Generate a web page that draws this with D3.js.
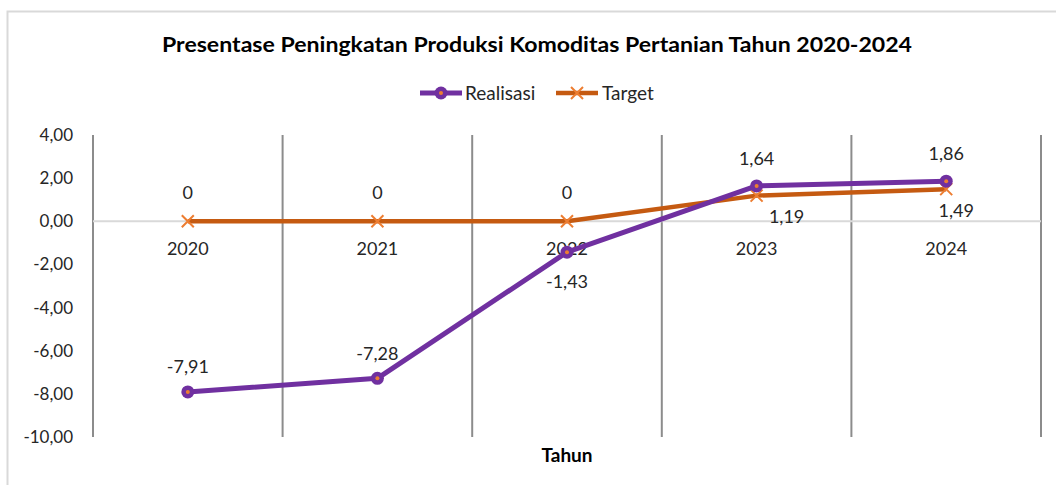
<!DOCTYPE html>
<html>
<head>
<meta charset="utf-8">
<script src="https://cdn.jsdelivr.net/npm/d3@7"></script>
<style>
  body { margin: 0; background: #fff; }
  svg { display: block; font-family: Lato, "Open Sans", sans-serif; }
</style>
</head>
<body>
<div id="chart"></div>
<script>
const years = ['2020', '2021', '2022', '2023', '2024'];
const realisasi = [-7.91, -7.28, -1.43, 1.64, 1.86];
const target = [0, 0, 0, 1.19, 1.49];
const yTicks = [4, 2, 0, -2, -4, -6, -8, -10];

const width = 1056, height = 485;
const margin = {top: 135, right: 15, bottom: 48, left: 93};

const locale = d3.formatLocale({decimal: ',', thousands: '.', grouping: [3], currency: ['Rp', ''], minus: '-'});
const fmtTick = locale.format('.2f');
const fmtLabel = v => v === 0 ? '0' : locale.format('.2f')(v);

const svg = d3.select('#chart').append('svg')
    .attr('width', width)
    .attr('height', height);

// chart border (only top and left are visible in the frame)
svg.append('path')
    .attr('d', 'M7.5,' + height + ' V11.5 H' + width)
    .attr('fill', 'none')
    .attr('stroke', '#d9d9d9')
    .attr('stroke-width', 2);

const x = d3.scaleBand()
    .domain(years)
    .range([margin.left, 1041]);

const y = d3.scaleLinear()
    .domain([-10, 4])
    .range([437, margin.top]);

// title
svg.append('text')
    .attr('x', 537)
    .attr('y', 52)
    .attr('text-anchor', 'middle')
    .attr('font-weight', 'bold')
    .attr('font-size', 21)
    .attr('textLength', 750)
    .attr('lengthAdjust', 'spacingAndGlyphs')
    .attr('fill', '#000')
    .text('Presentase Peningkatan Produksi Komoditas Pertanian Tahun 2020-2024');

// vertical gridlines (category boundaries)
const bounds = years.map(d => x(d)).concat([x.range()[1]]);
svg.append('g')
    .selectAll('line')
    .data(bounds)
    .join('line')
    .attr('x1', d => d)
    .attr('x2', d => d)
    .attr('y1', y(4))
    .attr('y2', y(-10))
    .attr('stroke', '#8c8c8c')
    .attr('stroke-width', 2);

// horizontal category axis at zero
svg.append('line')
    .attr('x1', margin.left)
    .attr('x2', x.range()[1])
    .attr('y1', y(0))
    .attr('y2', y(0))
    .attr('stroke', '#d9d9d9')
    .attr('stroke-width', 2);

// y axis labels
svg.append('g')
    .selectAll('text')
    .data(yTicks)
    .join('text')
    .attr('x', 73)
    .attr('y', d => y(d))
    .attr('dy', '0.35em')
    .attr('text-anchor', 'end')
    .attr('font-size', 17)
    .attr('fill', '#262626')
    .text(d => fmtTick(d));

// category labels
svg.append('g')
    .selectAll('text')
    .data(years)
    .join('text')
    .attr('x', d => x(d) + x.bandwidth() / 2)
    .attr('y', y(0) + 27)
    .attr('dy', '0.35em')
    .attr('text-anchor', 'middle')
    .attr('font-size', 18)
    .attr('fill', '#262626')
    .text(d => d);

// axis title
svg.append('text')
    .attr('x', 567)
    .attr('y', 462)
    .attr('text-anchor', 'middle')
    .attr('font-weight', 'bold')
    .attr('font-size', 19)
    .attr('fill', '#000')
    .text('Tahun');

const cx = d => x(d) + x.bandwidth() / 2;
const line = d3.line()
    .x((d, i) => cx(years[i]))
    .y(d => y(d));

const purple = '#7030a0';
const orange = '#c55a11';
const orangeLight = '#ed7d31';

// Target line
svg.append('path')
    .attr('d', line(target))
    .attr('fill', 'none')
    .attr('stroke', orange)
    .attr('stroke-width', 4.5)
    .attr('stroke-linejoin', 'round');

const xMark = (g, px, py, s) => {
    g.append('path')
        .attr('d', `M${px - s},${py - s}L${px + s},${py + s}M${px - s},${py + s}L${px + s},${py - s}`)
        .attr('stroke', orangeLight)
        .attr('stroke-width', 2);
};
const tMarks = svg.append('g');
target.forEach((v, i) => xMark(tMarks, cx(years[i]), y(v), 6));

// Realisasi line
svg.append('path')
    .attr('d', line(realisasi))
    .attr('fill', 'none')
    .attr('stroke', purple)
    .attr('stroke-width', 5)
    .attr('stroke-linejoin', 'round');

svg.append('g')
    .selectAll('circle')
    .data(realisasi)
    .join('circle')
    .attr('cx', (d, i) => cx(years[i]))
    .attr('cy', d => y(d))
    .attr('r', 6.5)
    .attr('fill', purple);

svg.append('g')
    .selectAll('circle')
    .data(realisasi)
    .join('circle')
    .attr('cx', (d, i) => cx(years[i]))
    .attr('cy', d => y(d))
    .attr('r', 2)
    .attr('fill', orangeLight);

// data labels (offsets follow the reference placement)
const rOff = [[0, -25], [0, -25], [0, 30], [0, -27], [0, -27]];
const tOff = [[0, -29], [0, -29], [0, -29], [30, 21], [10, 22]];

svg.append('g')
    .selectAll('text')
    .data(realisasi)
    .join('text')
    .attr('x', (d, i) => cx(years[i]) + rOff[i][0])
    .attr('y', (d, i) => y(d) + rOff[i][1])
    .attr('dy', '0.35em')
    .attr('text-anchor', 'middle')
    .attr('font-size', 18)
    .attr('fill', '#262626')
    .text(d => fmtLabel(d));

svg.append('g')
    .selectAll('text')
    .data(target)
    .join('text')
    .attr('x', (d, i) => cx(years[i]) + tOff[i][0])
    .attr('y', (d, i) => y(d) + tOff[i][1])
    .attr('dy', '0.35em')
    .attr('text-anchor', 'middle')
    .attr('font-size', 18)
    .attr('fill', '#262626')
    .text(d => fmtLabel(d));

// legend
const legend = svg.append('g').attr('transform', 'translate(0,93)');
legend.append('line')
    .attr('x1', 420).attr('x2', 462)
    .attr('stroke', purple).attr('stroke-width', 5);
legend.append('circle').attr('cx', 441).attr('r', 6.5).attr('fill', purple);
legend.append('circle').attr('cx', 441).attr('r', 2).attr('fill', orangeLight);
legend.append('text')
    .attr('x', 465).attr('dy', '0.35em')
    .attr('font-size', 19).attr('fill', '#262626')
    .text('Realisasi');

legend.append('line')
    .attr('x1', 556).attr('x2', 598)
    .attr('stroke', orange).attr('stroke-width', 4.5);
xMark(legend, 577, 0, 6);
legend.append('text')
    .attr('x', 602).attr('dy', '0.35em')
    .attr('font-size', 19).attr('fill', '#262626')
    .text('Target');
</script>
</body>
</html>
